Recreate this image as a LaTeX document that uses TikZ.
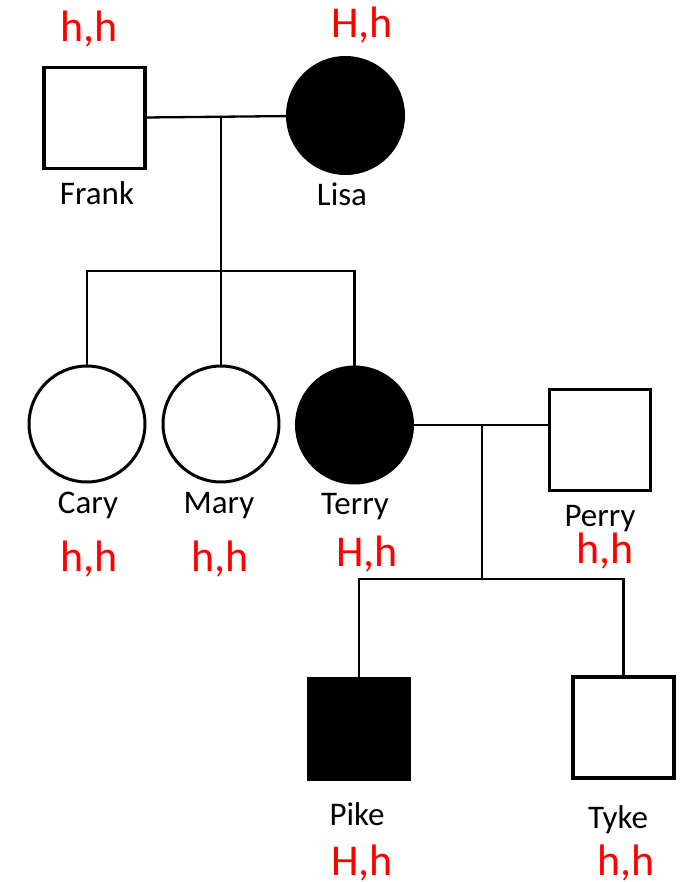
\documentclass[tikz,border=0pt]{standalone}
\usepackage{fontspec}
\setmainfont{Carlito}

\begin{document}
\begin{tikzpicture}[
      x=1pt, y=-1pt,
      male/.style={
        draw,
        rectangle,
        line width=3.2pt,
        minimum size=101pt,
        inner sep=0pt
      },
      female/.style={
        draw,
        circle,
        line width=3pt,
        minimum size=116pt,
        inner sep=0pt
      },
      affected/.style={fill=black},
      who/.style={anchor=base, font=\fontsize{33}{36}\selectfont},
      geno/.style={anchor=base, text=red, font=\fontsize{44}{48}\selectfont},
      link/.style={line width=2.3pt},
    ]
    \useasboundingbox (0,0) rectangle (684,882);

    % first generation
    \node [male] (frank) at (94.5,118) {};
    \node [female, affected] (lisa) at (345.5,115.5) {};
    \node [who] (frankname) at (97,205) {Frank};
    \node [who] (lisaname) at (342,206) {Lisa};
    \node [geno] (frankgeno) at (89,42) {h,h};
    \node [geno] (lisageno) at (362,38) {H,h};

    % second generation
    \node [female] (cary) at (87,424) {};
    \node [female] (mary) at (221,424) {};
    \node [female, affected] (terry) at (354.5,425) {};
    \node [male] (perry) at (600,440) {};
    \node [who] (caryname) at (88,513) {Cary};
    \node [who] (maryname) at (219,513) {Mary};
    \node [who] (terryname) at (355,514) {Terry};
    \node [who] (perryname) at (600,526) {Perry};
    \node [geno] (carygeno) at (89,571) {h,h};
    \node [geno] (marygeno) at (220,571) {h,h};
    \node [geno] (terrygeno) at (367,566) {H,h};
    \node [geno] (perrygeno) at (605,563) {h,h};

    % third generation
    \node [male, affected] (pike) at (359,729) {};
    \node [male] (tyke) at (623.5,727.5) {};
    \node [who] (pikename) at (357,825) {Pike};
    \node [who] (tykename) at (618,828) {Tyke};
    \node [geno] (pikegeno) at (362,875) {H,h};
    \node [geno] (tykegeno) at (626,875) {h,h};

    \coordinate (m1) at (221,117);
    \coordinate (sib) at (221,271);
    \coordinate (m2) at (482,425);
    \coordinate (kids) at (482,579);

    \draw [link] (frank) -- (lisa);
    \draw [link] (m1) -- (mary.north);
    \draw [link] (cary.north) |- (sib) -| (terry.north);
    \draw [link] (terry.east) -- (terry.east -| perry.west);
    \draw [link] (m2) -- (kids);
    \draw [link] (pike.north) |- (kids) -| (tyke.north);
  \end{tikzpicture}
\end{document}
